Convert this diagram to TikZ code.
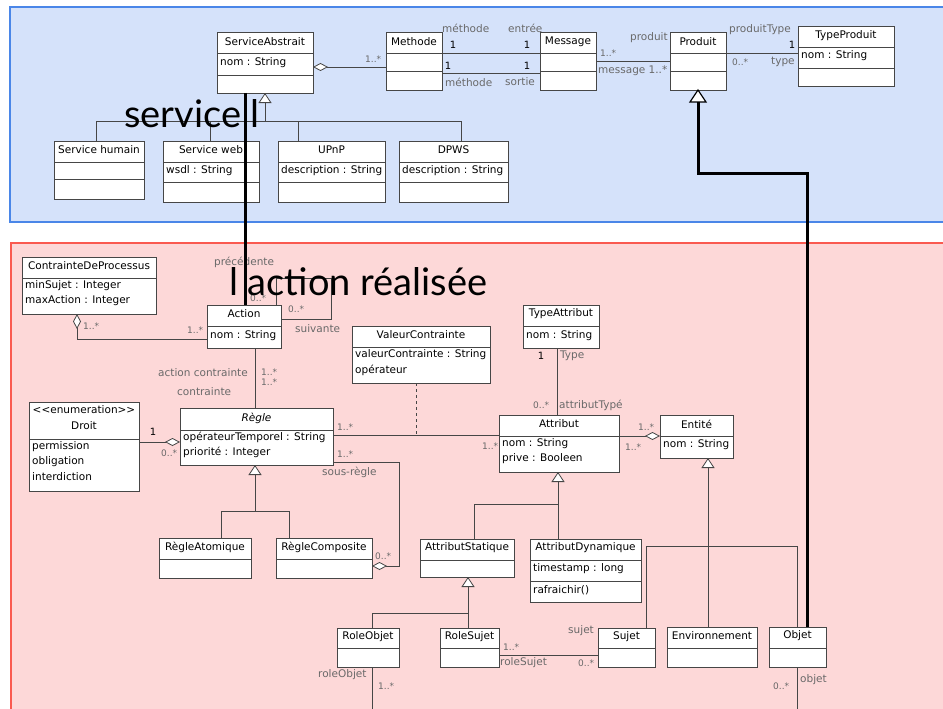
\documentclass[tikz,border=0pt]{standalone}
\usepackage{fontspec}
\setmainfont{DejaVu Sans}
\newfontfamily\bigfont{Lato}
\usetikzlibrary{arrows.meta}
\definecolor{bluefill}{RGB}{213,226,250}
\definecolor{blueline}{RGB}{74,134,232}
\definecolor{redfill}{RGB}{253,216,216}
\definecolor{redline}{RGB}{250,90,80}
\definecolor{umlline}{RGB}{70,70,70}
\definecolor{lblgray}{RGB}{105,105,105}
\tikzset{
  cbox/.style={draw=umlline, fill=white, line width=0.8pt, inner sep=0pt, outer sep=0pt, anchor=north west},
  sepl/.style={draw=umlline, line width=0.7pt},
  hdr/.style={font=\fontsize{10.5}{12}\selectfont, inner sep=0pt},
  attr/.style={font=\fontsize{10.5}{12}\selectfont, inner sep=0pt, anchor=west},
  lbl/.style={font=\fontsize{10.5}{12}\selectfont, text=lblgray, inner sep=0pt, anchor=west},
  mult/.style={font=\fontsize{9}{11}\selectfont, text=lblgray, inner sep=0pt, anchor=west},
  one/.style={font=\fontsize{10}{12}\selectfont, inner sep=0pt},
  assoc/.style={draw=umlline, line width=0.8pt},
  gen/.style={assoc, -{Triangle[fill=white, length=10pt, width=13pt]}},
  agg/.style={assoc, -{Diamond[fill=white, length=15pt, width=8pt]}},
  heavy/.style={draw=black, line width=3pt},
  bigtext/.style={font=\bigfont\fontsize{38}{42}\selectfont, inner sep=0pt, anchor=base west},
}
\newcommand\ubox[5]{\node[cbox, minimum width={(#4)-(#2)}, minimum height={(#5)-(#3)}] (#1) at (#2,#3) {};}
\newcommand\usepl[2]{\draw[sepl] (#1.west |- 0,#2) -- (#1.east |- 0,#2);}
\newcommand\uhead[3]{\node[hdr] (#1h) at (#1.north |- 0,#2) {#3};}
\newcommand\uattr[4]{\node[attr, xshift=3pt] (#1#2) at (#1.west |- 0,#3) {#4};}
\begin{document}
\begin{tikzpicture}[x=1pt,y=-1pt]
\useasboundingbox (0,0) rectangle (943,709);
\clip (0,0) rectangle (943,709);
\fill[white] (0,0) rectangle (943,709);
\draw[fill=bluefill, draw=blueline, line width=1.5pt] (10,7) rectangle (960,222);
\draw[fill=redfill, draw=redline, line width=1.5pt] (11,243) rectangle (960,730);

% ---------- classes: service part
\ubox{sa}{217}{32}{313}{93} \usepl{sa}{53} \usepl{sa}{75}
\uhead{sa}{42}{ServiceAbstrait} \uattr{sa}{a}{63}{nom : String}
\ubox{meth}{386}{32}{442}{90} \usepl{meth}{53} \usepl{meth}{71}
\uhead{meth}{42}{Methode}
\ubox{msg}{540}{32}{596}{90} \usepl{msg}{53} \usepl{msg}{71}
\uhead{msg}{42}{Message}
\ubox{prod}{670}{32}{726}{90} \usepl{prod}{53} \usepl{prod}{71}
\uhead{prod}{42}{Produit}
\ubox{tp}{798}{26}{894}{86} \usepl{tp}{47} \usepl{tp}{68}
\uhead{tp}{36}{TypeProduit} \uattr{tp}{a}{56}{nom : String}
\ubox{sh}{54}{141}{144}{199} \usepl{sh}{162} \usepl{sh}{179}
\uhead{sh}{150}{Service humain}
\ubox{sw}{163}{141}{259}{202} \usepl{sw}{162} \usepl{sw}{182}
\uhead{sw}{150}{Service web} \uattr{sw}{a}{171}{wsdl : String}
\ubox{upnp}{278}{141}{385}{202} \usepl{upnp}{162} \usepl{upnp}{182}
\uhead{upnp}{150}{UPnP} \uattr{upnp}{a}{171}{description : String}
\ubox{dpws}{399}{141}{508}{202} \usepl{dpws}{162} \usepl{dpws}{182}
\uhead{dpws}{150}{DPWS} \uattr{dpws}{a}{171}{description : String}

% ---------- classes: action part
\ubox{cdp}{22}{257}{156}{314} \usepl{cdp}{278}
\uhead{cdp}{266}{ContrainteDeProcessus}
\uattr{cdp}{a}{286}{minSujet : Integer} \uattr{cdp}{b}{301}{maxAction : Integer}
\ubox{act}{207}{305}{281}{348} \usepl{act}{326}
\uhead{act}{314}{Action} \uattr{act}{a}{336}{nom : String}
\ubox{vc}{352}{326}{490}{383} \usepl{vc}{347}
\uhead{vc}{335}{ValeurContrainte}
\uattr{vc}{a}{355}{valeurContrainte : String} \uattr{vc}{b}{370}{opérateur}
\ubox{ta}{523}{305}{599}{348} \usepl{ta}{326}
\uhead{ta}{314}{TypeAttribut} \uattr{ta}{a}{336}{nom : String}
\ubox{droit}{29}{402}{139}{491} \usepl{droit}{439}
\uhead{droit}{410}{<\kern0pt<enumeration>\kern0pt>}
\node[hdr] (droitn) at (droit.north |- 0,426) {Droit};
\uattr{droit}{a}{447}{permission} \uattr{droit}{b}{462}{obligation} \uattr{droit}{c}{477}{interdiction}
\ubox{regle}{180}{408}{333}{465} \usepl{regle}{430}
\uhead{regle}{418}{\itshape Règle}
\uattr{regle}{a}{437}{opérateurTemporel : String} \uattr{regle}{b}{452}{priorité : Integer}
\ubox{attr}{499}{415}{619}{472} \usepl{attr}{436}
\uhead{attr}{424}{Attribut}
\uattr{attr}{a}{444}{nom : String} \uattr{attr}{b}{459}{prive : Booleen}
\ubox{ent}{660}{415}{733}{458} \usepl{ent}{436}
\uhead{ent}{424}{Entité} \uattr{ent}{a}{445}{nom : String}
\ubox{ra}{159}{538}{251}{578} \usepl{ra}{559}
\uhead{ra}{547}{RègleAtomique}
\ubox{rc}{276}{538}{372}{578} \usepl{rc}{559}
\uhead{rc}{547}{RègleComposite}
\ubox{as}{420}{539}{514}{577} \usepl{as}{560}
\uhead{as}{548}{AttributStatique}
\ubox{ad}{530}{539}{641}{602} \usepl{ad}{560} \usepl{ad}{581}
\uhead{ad}{548}{AttributDynamique}
\uattr{ad}{a}{569}{timestamp : long} \uattr{ad}{b}{590}{rafraichir()}
\ubox{ro}{337}{628}{399}{667} \usepl{ro}{648}
\uhead{ro}{637}{RoleObjet}
\ubox{rs}{440}{628}{499}{667} \usepl{rs}{648}
\uhead{rs}{637}{RoleSujet}
\ubox{suj}{598}{628}{655}{667} \usepl{suj}{648}
\uhead{suj}{637}{Sujet}
\ubox{env}{667}{627}{757}{667} \usepl{env}{648}
\uhead{env}{636}{Environnement}
\ubox{obj}{769}{627}{826}{667} \usepl{obj}{648}
\uhead{obj}{636}{Objet}

% ---------- connectors: service part
\draw[agg] (meth.west |- 0,67) -- (sa.east |- 0,67);
\draw[assoc] (meth.east |- 0,53) -- (msg.west |- 0,53);
\draw[assoc] (meth.east |- 0,73) -- (msg.west |- 0,73);
\draw[assoc] (msg.east |- 0,61) -- (prod.west |- 0,61);
\draw[assoc] (prod.east |- 0,53) -- (tp.west |- 0,53);
\coordinate (gs) at (265,121);
\draw[assoc] (sh.north -| 96,0) -- (96,121) -- (461,121) -- (dpws.north -| 461,0);
\draw[assoc] (210,121) -- (sw.north -| 210,0);
\draw[assoc] (298,121) -- (upnp.north -| 298,0);
\draw[gen] (gs) -- (sa.south -| gs);

% ---------- connectors: action part
\draw[agg] (act.west |- 0,339) -| (cdp.south -| 77,0);
\draw[assoc] (act.north -| 276,0) -- (276,278) -- (331,278) -- (331,319) -- (act.east |- 0,319);
\draw[assoc] (act.south -| 255,0) -- (regle.north -| 255,0);
\draw[agg] (droit.east |- 0,442) -- (regle.west |- 0,442);
\draw[assoc] (regle.east |- 0,435) -- (attr.west |- 0,435);
\coordinate (vcj) at (416,435);
\draw[assoc, dashed] (vc.south -| vcj) -- (vcj);
\draw[agg] (regle.east |- 0,462) -- (399,462) -- (399,566) -- (rc.east |- 0,566);
\draw[assoc] (ra.north -| 221,0) -- (221,511) -- (289,511) -- (rc.north -| 289,0);
\draw[gen] (255,511) -- (regle.south -| 255,0);
\draw[assoc] (ta.south -| 557,0) -- (attr.north -| 557,0);
\draw[agg] (attr.east |- 0,436) -- (ent.west |- 0,436);
\draw[assoc] (as.north -| 474,0) -- (474,504) -- (558,504) -- (ad.north -| 558,0);
\draw[gen] (558,504) -- (attr.south -| 558,0);
\draw[gen] (env.north -| 708,0) -- (ent.south -| 708,0);
\draw[assoc] (suj.north -| 646,0) -- (646,546) -- (797,546) -- (obj.north -| 797,0);
\draw[assoc] (ro.north -| 372,0) -- (372,613) -- (468,613) -- (rs.north -| 468,0);
\draw[gen] (468,613) -- (as.south -| 468,0);
\draw[assoc] (rs.east |- 0,655) -- (suj.west |- 0,655);
\coordinate (roend) at (372,715);
\draw[assoc] (ro.south -| roend) -- (roend);
\coordinate (objend) at (797,715);
\draw[assoc] (obj.south -| objend) -- (objend);

% ---------- labels: service part
\node[mult] (m1) at (365,59) {1..*};
\node[lbl] (l1) at (442,28) {méthode};
\node[one] (o1) at (453,45) {1};
\node[lbl] (l2) at (508,28) {entrée};
\node[one] (o2) at (527,45) {1};
\node[one] (o3) at (448,66) {1};
\node[one] (o4) at (527,66) {1};
\node[lbl] (l3) at (445,82) {méthode};
\node[lbl] (l4) at (505,82) {sortie};
\node[mult] (m2) at (600,53) {1..*};
\node[lbl] (l5) at (598,71) {message 1..*};
\node[lbl] (l6) at (630,38) {produit};
\node[lbl] (l7) at (729,30) {produitType};
\node[one] (o5) at (792,45) {1};
\node[mult] (m3) at (732,62) {0..*};
\node[lbl] (l8) at (771,62) {type};

% ---------- labels: action part
\node[mult] (m4) at (83,326) {1..*};
\node[mult] (m5) at (187,330) {1..*};
\node[lbl] (l9) at (214,262) {précédente};
\node[mult] (m6) at (250,298) {0..*};
\node[mult] (m7) at (288,309) {0..*};
\node[lbl] (l10) at (295,329) {suivante};
\node[lbl] (l11) at (158,373) {action contrainte};
\node[lbl] (l12) at (177,392) {contrainte};
\node[mult] (m8) at (261,372) {1..*};
\node[mult] (m9) at (261,382) {1..*};
\node[one] (o6) at (153,432) {1};
\node[mult] (m10) at (161,453) {0..*};
\node[mult] (m11) at (337,427) {1..*};
\node[mult] (m12) at (337,454) {1..*};
\node[lbl] (l13) at (322,472) {sous-règle};
\node[mult] (m13) at (375,556) {0..*};
\node[mult] (m14) at (482,446) {1..*};
\node[one] (o7) at (541,356) {1};
\node[lbl] (l14) at (560,356) {Type};
\node[mult] (m15) at (533,405) {0..*};
\node[lbl] (l15) at (559,405) {attributTypé};
\node[mult] (m16) at (638,427) {1..*};
\node[mult] (m17) at (625,447) {1..*};
\node[lbl] (l16) at (568,631) {sujet};
\node[mult] (m18) at (503,647) {1..*};
\node[lbl] (l17) at (500,663) {roleSujet};
\node[mult] (m19) at (578,663) {0..*};
\node[lbl] (l18) at (318,675) {roleObjet};
\node[mult] (m20) at (378,686) {1..*};
\node[mult] (m21) at (773,686) {0..*};
\node[lbl] (l19) at (800,680) {objet};

% ---------- big titles
\node[bigtext] (title1) at (124,128) {service l};
\node[bigtext] (title2) at (229,295) {l action réalisée};

% ---------- heavy links
\draw[heavy] (sa.south -| 245,0) -- (act.north -| 245,0);
\draw[heavy] (obj.north -| 807,0) -- (807,173) -- (698,173) -- (698,101);
\draw[line width=1.2pt, draw=black, fill=white] (prod.south) -- ++(-8,12) -- ++(16,0) -- cycle;
\end{tikzpicture}
\end{document}
